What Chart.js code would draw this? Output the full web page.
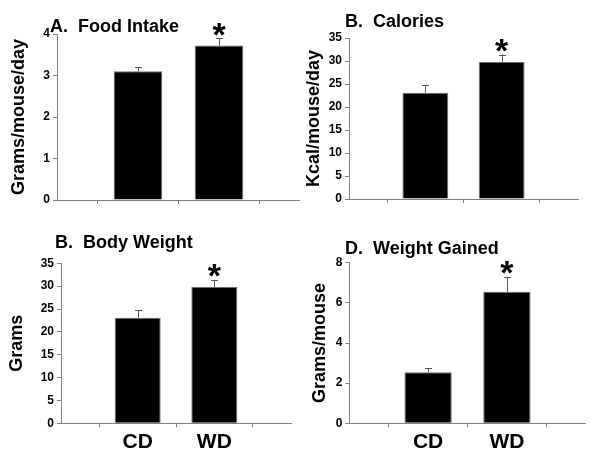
<!DOCTYPE html>
<html><head><meta charset="utf-8">
<script src="https://cdn.jsdelivr.net/npm/chart.js@4.4.0/dist/chart.umd.min.js"></script>
<style>
html,body{margin:0;padding:0;background:#fff;}
#wrap{position:relative;width:600px;height:468px;overflow:hidden;background:#fff;}
.p{position:absolute;width:300px;height:234px;}
canvas{display:block;}
</style></head><body>
<div id="wrap">
<div class="p" style="left:0;top:0"><canvas id="cA" width="300" height="234"></canvas></div>
<div class="p" style="left:300px;top:0"><canvas id="cB" width="300" height="234"></canvas></div>
<div class="p" style="left:0;top:234px"><canvas id="cC" width="300" height="234"></canvas></div>
<div class="p" style="left:300px;top:234px"><canvas id="cD" width="300" height="234"></canvas></div>
</div>
<script>
// ---- data ----
const categories = ['CD', 'WD'];
const foodIntake = [3.1, 3.72];
const foodIntakeErr = [0.1, 0.18];
const calories = [23.1, 29.8];
const caloriesErr = [1.6, 1.6];
const bodyWeight = [23.1, 29.8];
const bodyWeightErr = [1.6, 1.6];
const weightGained = [2.54, 6.55];
const weightGainedErr = [0.21, 0.76];
const significant = [false, true];
const panelTitles = ['A.  Food Intake', 'B.  Calories', 'B.  Body Weight', 'D.  Weight Gained'];
const yTitles = ['Grams/mouse/day', 'Kcal/mouse/day', 'Grams', 'Grams/mouse'];
const yMaxes = [4, 35, 35, 8];
const ySteps = [1, 5, 5, 2];

// ---- styling / layout ----
const FONT = "'Liberation Sans', Arial, Helvetica, sans-serif";
const AXIS = '#808080';
const panels = [
  {id:'cA', values:foodIntake, errs:foodIntakeErr, showX:false,
   area:{left:57, right:305, top:34, bottom:200}, tpos:{x:50, y:32}, ytPad:8},
  {id:'cB', values:calories, errs:caloriesErr, showX:false,
   area:{left:49, right:278, top:38, bottom:199}, tpos:{x:45, y:27}, ytPad:3},
  {id:'cC', values:bodyWeight, errs:bodyWeightErr, showX:true,
   area:{left:61, right:291, top:29.3, bottom:189.3}, tpos:{x:55, y:14}, ytPad:6.5},
  {id:'cD', values:weightGained, errs:weightGainedErr, showX:true,
   area:{left:49.3, right:285.7, top:28.7, bottom:189.3}, tpos:{x:45, y:20}, ytPad:9}
];

const labels = [''].concat(categories, ['']);

const extrasPlugin = {
  id: 'extras',
  afterDatasetsDraw(chart, args, opts) {
    const ctx = chart.ctx;
    const xs = chart.scales.x, ys = chart.scales.y;
    ctx.save();
    opts.values.forEach((v, i) => {
      const x = xs.getPixelForValue(i + 1);
      const y0 = ys.getPixelForValue(v);
      const y1 = ys.getPixelForValue(v + opts.errs[i]);
      ctx.strokeStyle = '#555';
      ctx.lineWidth = 1;
      ctx.beginPath();
      ctx.moveTo(Math.round(x) + 0.5, y0);
      ctx.lineTo(Math.round(x) + 0.5, y1);
      ctx.moveTo(Math.round(x) - 3, Math.round(y1) + 0.5);
      ctx.lineTo(Math.round(x) + 4, Math.round(y1) + 0.5);
      ctx.stroke();
      if (significant[i]) {
        ctx.font = 'bold 34px ' + FONT;
        ctx.fillStyle = '#000';
        ctx.textAlign = 'center';
        ctx.textBaseline = 'alphabetic';
        const m = ctx.measureText('*');
        const target = y1 - 9;
        const yy = target + (m.actualBoundingBoxAscent - m.actualBoundingBoxDescent) / 2;
        ctx.fillText('*', x, yy);
      }
    });
    ctx.font = 'bold 18px ' + FONT;
    ctx.fillStyle = '#000';
    ctx.textAlign = 'left';
    ctx.textBaseline = 'alphabetic';
    ctx.fillText(opts.title, opts.tpos.x, opts.tpos.y);
    ctx.restore();
  }
};

panels.forEach((p, k) => {
  const H = 234, W = 300;
  const xh = p.showX ? 30 : 6;
  new Chart(document.getElementById(p.id), {
    type: 'bar',
    data: {
      labels: labels,
      datasets: [{
        data: [null].concat(p.values, [null]),
        backgroundColor: '#000',
        borderColor: '#6a6a6a',
        borderWidth: 1,
        barPercentage: 0.6,
        categoryPercentage: 1.0
      }]
    },
    options: {
      responsive: false,
      animation: false,
      devicePixelRatio: 1,
      layout: { padding: { left: 0, top: p.area.top, right: W - p.area.right, bottom: H - p.area.bottom - xh } },
      plugins: {
        legend: { display: false },
        tooltip: { enabled: false },
        title: { display: false },
        extras: { values: p.values, errs: p.errs, title: panelTitles[k], tpos: p.tpos }
      },
      scales: {
        x: {
          type: 'category',
          offset: false,
          grid: { display: true, drawOnChartArea: false, drawTicks: true, tickLength: 4, color: AXIS },
          border: { display: true, color: AXIS, width: 1 },
          ticks: { display: p.showX, autoSkip: false, maxRotation: 0, padding: 2, color: '#000',
                   font: { family: FONT, size: 21, weight: 'bold' } },
          afterFit(s) { s.height = xh; }
        },
        y: {
          min: 0, max: yMaxes[k],
          ticks: { stepSize: ySteps[k], padding: 3, color: '#000',
                   font: { family: FONT, size: 12, weight: 'bold' } },
          grid: { display: true, drawOnChartArea: false, drawTicks: true, tickLength: 4, color: AXIS },
          border: { display: true, color: AXIS, width: 1 },
          title: { display: true, text: yTitles[k], color: '#000',
                   font: { family: FONT, size: 18, weight: 'bold' },
                   padding: { top: p.ytPad, bottom: 0 } },
          afterFit(s) { s.width = p.area.left; }
        }
      }
    },
    plugins: [extrasPlugin]
  });
});
</script>
</body></html>
